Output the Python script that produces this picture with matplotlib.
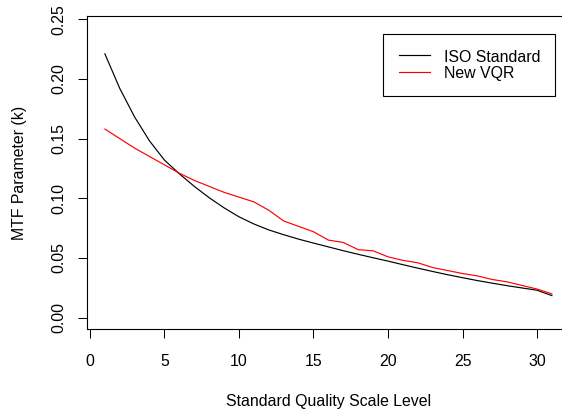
import matplotlib
matplotlib.use("Agg")
import matplotlib.pyplot as plt
import numpy as np

levels = list(range(1, 32))
iso_standard = [0.221, 0.192, 0.168, 0.148, 0.132, 0.1205, 0.1100, 0.1005, 0.0920, 0.0845,
                0.0785, 0.0735, 0.0695, 0.0658, 0.0625, 0.0593, 0.0561, 0.0531, 0.0502, 0.0474,
                0.0444, 0.0415, 0.0387, 0.0360, 0.0335, 0.0311, 0.0289, 0.0268, 0.0249, 0.0230,
                0.0185]
new_vqr = [0.158, 0.150, 0.142, 0.135, 0.128, 0.121, 0.115, 0.110, 0.105, 0.101,
           0.097, 0.090, 0.081, 0.0765, 0.072, 0.065, 0.063, 0.057, 0.056, 0.051,
           0.048, 0.046, 0.042, 0.0395, 0.037, 0.035, 0.032, 0.030, 0.027, 0.024,
           0.020]
x_ticks = [0, 5, 10, 15, 20, 25, 30]
y_ticks = [0.00, 0.05, 0.10, 0.15, 0.20, 0.25]
y_tick_labels = ["0.00", "0.05", "0.10", "0.15", "0.20", "0.25"]
series_names = ["ISO Standard", "New VQR"]

plt.rcParams['font.family'] = ['Liberation Sans', 'DejaVu Sans']
FS = 11.4

fig = plt.figure(figsize=(5.62, 4.12), dpi=100)
ax = fig.add_axes([0.1548, 0.20073, 0.85907, 0.76044])

ax.plot(levels, iso_standard, color='black', lw=0.85, label=series_names[0])
ax.plot(levels, new_vqr, color='#ff0000', lw=0.85, label=series_names[1])

ax.set_xlim(-0.2, 32.2)
ax.set_ylim(-0.00972, 0.2527)
ax.set_xticks(x_ticks)
ax.set_xticklabels([str(t) for t in x_ticks], fontsize=FS)
ax.set_yticks(y_ticks)
ax.set_yticklabels(y_tick_labels, fontsize=FS, rotation=90, va='center')

ax.tick_params(axis='x', direction='out', length=6.8, width=0.75, pad=10.8, colors='black')
ax.tick_params(axis='y', direction='out', length=6.8, width=0.75, pad=7.7, colors='black')
for s in ax.spines.values():
    s.set_linewidth(0.8)
    s.set_color('black')

ax.set_xlabel("Standard Quality Scale Level", fontsize=FS, labelpad=18.2)
ax.set_ylabel("MTF Parameter (k)", fontsize=FS, labelpad=17.6)

leg = ax.legend(loc='center', bbox_to_anchor=(469.4 / 562, 1 - 65 / 412),
                bbox_transform=fig.transFigure, fontsize=FS, frameon=True,
                fancybox=False, shadow=False, borderpad=0.95, handlelength=1.96,
                handletextpad=0.9, handleheight=1.18, labelspacing=0.0,
                borderaxespad=0)
leg.get_frame().set_edgecolor('black')
leg.get_frame().set_linewidth(0.8)
leg.get_frame().set_alpha(None)
leg.get_frame().set_facecolor('white')

fig.savefig("out.png", dpi=100)
